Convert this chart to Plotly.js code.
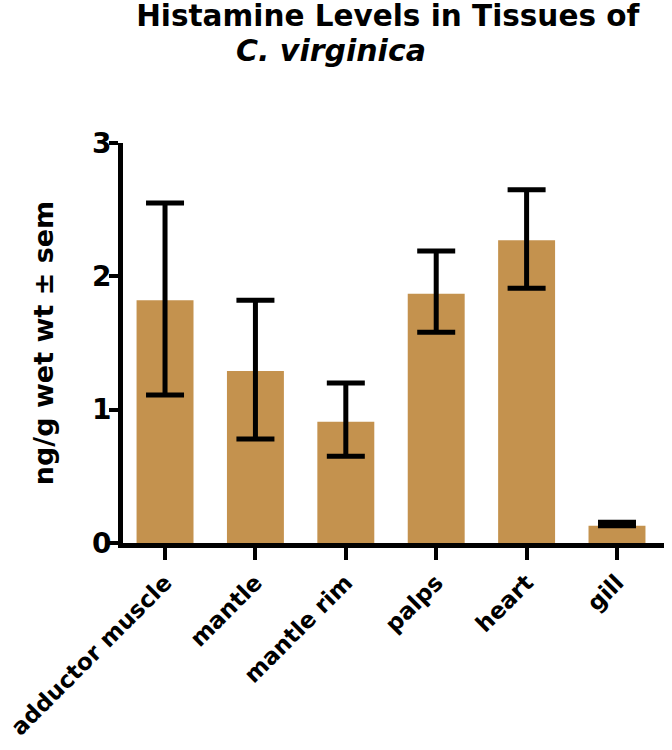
<!DOCTYPE html>
<html>
<head>
<meta charset="utf-8">
<script src="https://cdn.plot.ly/plotly-3.0.1.min.js"></script>
<style>
  body { margin: 0; background: #fff; }
  #chart { width: 672px; height: 750px; }
</style>
</head>
<body>
<div id="chart"></div>
<script>
// tissues and histamine levels (ng/g wet wt)
var tissues = ['adductor muscle', 'mantle', 'mantle rim', 'palps', 'heart', 'gill'];
var means = [1.82, 1.29, 0.91, 1.87, 2.27, 0.13];
var semUp = [0.73, 0.53, 0.29, 0.32, 0.38, 0.025];
var semDown = [0.71, 0.51, 0.26, 0.29, 0.36, 0.0];
var yticks = [0, 1, 2, 3];

var fnt = 'DejaVu Sans, sans-serif';

var trace = {
  x: tissues,
  y: means,
  type: 'bar',
  width: 0.63,
  marker: { color: 'rgb(196,146,78)' },
  error_y: {
    type: 'data',
    symmetric: false,
    array: semUp,
    arrayminus: semDown,
    visible: true,
    color: '#000',
    thickness: 5,
    width: 19
  },
  hoverinfo: 'none'
};

var layout = {
  width: 672,
  height: 750,
  margin: { l: 123, r: 8, t: 143, b: 207 },
  paper_bgcolor: '#fff',
  plot_bgcolor: '#fff',
  showlegend: false,
  font: { family: fnt, color: '#000' },
  title: {
    text: '<b>Histamine Levels in Tissues of</b>',
    font: { size: 29.5, family: fnt, color: '#000' },
    xref: 'container', x: 0.577, xanchor: 'center',
    yref: 'container', y: 0.979, yanchor: 'middle'
  },
  annotations: [{
    text: '<b><i>C. virginica</i></b>',
    xref: 'paper', yref: 'paper',
    x: 0.3845, y: 1.232,
    xanchor: 'center', yanchor: 'middle',
    showarrow: false,
    font: { size: 30, family: fnt, color: '#000' }
  }],
  xaxis: {
    type: 'category',
    range: [-0.465, 5.52],
    showline: true, linecolor: '#000', linewidth: 5,
    ticks: 'outside', ticklen: 12, tickwidth: 4, tickcolor: '#000',
    tickangle: -45,
    tickvals: tissues,
    ticktext: tissues.map(function (t) { return '<b>' + t + '</b>'; }),
    tickfont: { size: 23, family: fnt, color: '#000' },
    showgrid: false, zeroline: false, fixedrange: true,
    automargin: false
  },
  yaxis: {
    range: [0, 3],
    tickvals: yticks,
    ticktext: yticks.map(function (v) { return '<b>' + v + '</b>'; }),
    showline: true, linecolor: '#000', linewidth: 5,
    ticks: 'outside', ticklen: 9, tickwidth: 4, tickcolor: '#000',
    ticklabelstandoff: -8,
    tickfont: { size: 28, family: fnt, color: '#000' },
    showgrid: false, zeroline: false, fixedrange: true,
    automargin: false,
    title: {
      text: '<b>ng/g wet wt ± sem</b>',
      font: { size: 27, family: fnt, color: '#000' },
      standoff: 32
    }
  }
};

Plotly.newPlot('chart', [trace], layout, { displayModeBar: false, staticPlot: true });
</script>
</body>
</html>
